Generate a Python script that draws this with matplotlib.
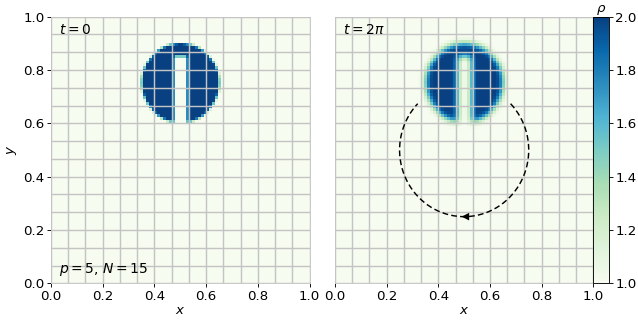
import numpy as np
import matplotlib
matplotlib.use("Agg")
import matplotlib.pyplot as plt

# ---- data ----
n_elements = 15            # N
poly_order = 5             # p  -> p+1 subcells per element
disk_center = (0.5, 0.75)
disk_radius = 0.15
slot_width = 0.05
slot_top = 0.85
rho_outside = 1.0
rho_inside = 2.0
smear_passes = 2           # numerical diffusion seen at t = 2*pi
rot_center = (0.5, 0.5)
rot_radius = 0.25
arc_start_deg = 44.0
arc_end_deg = -224.0
arrow_tip = (0.49, 0.25)
arrow_tail = (0.53, 0.25)
x_ticks = [0.0, 0.2, 0.4, 0.6, 0.8, 1.0]
cbar_ticks = [1.0, 1.2, 1.4, 1.6, 1.8, 2.0]
titles = [r"$t = 0$", r"$t = 2\pi$"]
info_text = r"$p = 5$, $N = 15$"

# ---- build the subcell field ----
nsub = n_elements * (poly_order + 1)
ss = 8
f = (np.arange(nsub * ss) + 0.5) / (nsub * ss)
X, Y = np.meshgrid(f, f)
inside = ((X - disk_center[0]) ** 2 + (Y - disk_center[1]) ** 2 <= disk_radius ** 2)
slot = (np.abs(X - disk_center[0]) <= slot_width / 2) & (Y <= slot_top)
ind = (inside & ~slot).astype(float)
avg = ind.reshape(nsub, ss, nsub, ss).mean(axis=(1, 3))
rho0 = rho_outside + (rho_inside - rho_outside) * avg

k = np.array([0.25, 0.5, 0.25])
sm = avg.copy()
for _ in range(smear_passes):
    p = np.pad(sm, 1, mode="edge")
    sm = k[0] * p[:-2, 1:-1] + k[1] * p[1:-1, 1:-1] + k[2] * p[2:, 1:-1]
    p = np.pad(sm, 1, mode="edge")
    sm = k[0] * p[1:-1, :-2] + k[1] * p[1:-1, 1:-1] + k[2] * p[1:-1, 2:]
rho1 = rho_outside + (rho_inside - rho_outside) * sm
fields = [rho0, rho1]

# ---- figure ----
DPI = 80
W, H = 638, 330
fs = 12
fig = plt.figure(figsize=(W / DPI, H / DPI), dpi=DPI)
def rect(x0, x1, y0, y1):
    return [x0 / W, 1 - y1 / H, (x1 - x0) / W, (y1 - y0) / H]

ax_l = fig.add_axes(rect(51.0, 309.5, 16.7, 283.3))
ax_r = fig.add_axes(rect(335.0, 593.3, 16.7, 283.3))
cax = fig.add_axes(rect(593.3, 609.3, 16.7, 283.3))
grid_col = "#c4c4c4"

for i, ax in enumerate([ax_l, ax_r]):
    im = ax.imshow(fields[i], origin="lower", extent=[0, 1, 0, 1], cmap="GnBu",
                   vmin=rho_outside, vmax=rho_inside, interpolation="nearest",
                   aspect="auto")
    for e in range(n_elements + 1):
        v = e / n_elements
        ax.axvline(v, color=grid_col, lw=1.3, zorder=2)
        ax.axhline(v, color=grid_col, lw=1.3, zorder=2)
    for s in ax.spines.values():
        s.set_color(grid_col)
    ax.set_xlim(0, 1)
    ax.set_ylim(0, 1)
    ax.set_xticks(x_ticks)
    ax.set_xticklabels([f"{t:.1f}" for t in x_ticks])
    ax.set_xlabel(r"$x$", fontsize=fs, labelpad=1)
    ax.text(0.03, 0.975, titles[i], transform=ax.transAxes, ha="left", va="top",
            fontsize=12.5)
    ax.tick_params(labelsize=fs, pad=2.5)

ax_l.set_yticks(x_ticks)
ax_l.set_yticklabels([f"{t:.1f}" for t in x_ticks])
ax_l.set_ylabel(r"$y$", fontsize=fs, labelpad=4)
ax_l.text(0.03, 0.02, info_text, transform=ax_l.transAxes, ha="left", va="bottom",
          fontsize=12.5)
ax_r.tick_params(left=False, labelleft=False)

th = np.deg2rad(np.linspace(arc_start_deg, arc_end_deg, 300))
ax_r.plot(rot_center[0] + rot_radius * np.cos(th), rot_center[1] + rot_radius * np.sin(th),
          ls=(0, (4, 2.2)), color="k", lw=1.3, zorder=3)
ax_r.annotate("", xy=arrow_tip, xytext=arrow_tail,
              arrowprops=dict(arrowstyle="-|>", color="k", lw=0.01,
                              mutation_scale=17, shrinkA=0, shrinkB=0), zorder=4)

cb = fig.colorbar(im, cax=cax)
cb.set_ticks(cbar_ticks)
cb.ax.tick_params(labelsize=fs, pad=2)
cb.ax.set_title(r"$\rho$", fontsize=fs, pad=2)

fig.savefig("out.png", dpi=DPI)
